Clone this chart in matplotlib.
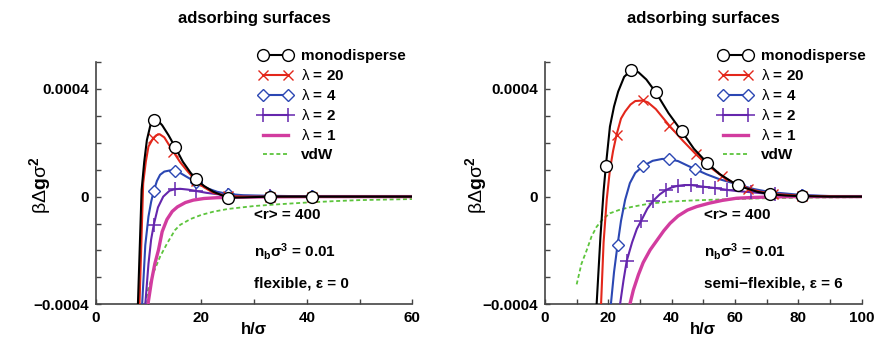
import matplotlib
matplotlib.use("Agg")
import matplotlib.pyplot as plt
import numpy as np

plt.rcParams['font.family'] = ['Liberation Sans', 'DejaVu Sans']
plt.rcParams['mathtext.fontset'] = 'custom'
plt.rcParams['mathtext.rm'] = 'Liberation Sans'
plt.rcParams['mathtext.it'] = 'Liberation Sans'
plt.rcParams['mathtext.bf'] = 'Liberation Sans:bold'

# ---------------- left panel: flexible chains, eps = 0 ----------------
mono_L_h = [8.0, 8.7, 9.2, 9.7, 10.4, 11.0, 11.8, 12.6, 13.8, 15.0, 16.5, 18.0, 19.0, 20.5, 22.3, 25.0, 28.0, 33.0, 41.0, 50.0, 60.0]
mono_L_v = [-0.0004, 0.000025, 0.00013, 0.00021, 0.000268, 0.000283, 0.000282, 0.000265, 0.000228, 0.000186, 0.000130, 0.000088, 0.000066, 0.000040, 0.000018, -0.000004, -0.000003, 0.0, 0.0, 0.0, 0.0]
mono_L_mk = [11.0, 15.0, 19.0, 25.0, 33.0, 41.0]

l20_L_h = [8.3, 9.0, 9.5, 10.0, 10.9, 11.5, 12.1, 13.0, 14.7, 16.0, 17.2, 19.0, 20.5, 22.3, 25.0, 28.0, 33.0, 41.0, 50.0, 60.0]
l20_L_v = [-0.0004, 0.00005, 0.00013, 0.000186, 0.000217, 0.000228, 0.000232, 0.000220, 0.000167, 0.000128, 0.000099, 0.000058, 0.000035, 0.000014, 0.000002, 0.0, 0.0, 0.0, 0.0, 0.0]
l20_L_mk = [10.9, 14.7, 19.0, 25.0, 33.0, 41.0]

l4_L_h = [8.8, 9.4, 10.0, 10.5, 11.0, 11.6, 12.2, 13.0, 14.0, 15.0, 16.0, 17.2, 19.0, 21.0, 23.0, 25.0, 28.0, 33.0, 41.0, 50.0, 60.0]
l4_L_v = [-0.0004, -0.00018, -0.000074, -0.00002, 0.000021, 0.000058, 0.000081, 0.000093, 0.000097, 0.000096, 0.000088, 0.000074, 0.000054, 0.000032, 0.000018, 0.00001, 0.000005, 0.000003, 0.000001, 0.0, 0.0]
l4_L_mk = [11.0, 15.0, 19.0, 25.0, 33.0, 41.0]

l2_L_h = [9.4, 10.0, 10.5, 11.0, 11.8, 12.8, 14.0, 15.0, 16.0, 17.5, 19.0, 21.0, 23.0, 25.0, 28.0, 33.0, 41.0, 50.0, 60.0]
l2_L_v = [-0.0004, -0.00025, -0.00016, -0.000105, -0.00004, 0.0, 0.000022, 0.0000275, 0.000029, 0.000026, 0.000021, 0.000014, 0.000009, 0.000005, 0.000003, 0.000001, 0.0, 0.0, 0.0]
l2_L_mk = [11.0, 15.0, 19.0, 25.0, 33.0, 41.0]

l1_L_h = [9.9, 10.6, 11.2, 11.9, 12.6, 13.5, 14.5, 15.5, 17.0, 18.5, 20.5, 23.0, 27.0, 33.0, 41.0, 50.0, 60.0]
l1_L_v = [-0.0004, -0.00031, -0.00025, -0.000198, -0.00013, -0.000085, -0.000055, -0.000038, -0.000022, -0.000013, -0.000007, -0.000004, -0.000002, -0.000001, 0.0, 0.0, 0.0]

vdw_L_h = [9.4, 10.0, 11.0, 12.2, 13.5, 15.0, 16.0, 18.0, 20.0, 22.3, 25.0, 30.0, 35.0, 40.0, 45.0, 50.0, 55.0, 60.0]
vdw_L_v = [-0.0004, -0.00034, -0.00028, -0.000223, -0.000175, -0.000125, -0.000105, -0.000083, -0.000068, -0.000056, -0.000046, -0.000035, -0.000028, -0.000022, -0.000017, -0.000013, -0.000011, -0.000009]

# ---------------- right panel: semi-flexible chains, eps = 6 ----------------
mono_R_h = [16.3, 17.5, 18.5, 19.2, 20.5, 21.8, 23.1, 25.0, 27.2, 29.5, 32.0, 35.0, 39.0, 43.2, 47.0, 51.3, 55.0, 59.0, 61.0, 63.0, 67.0, 71.0, 76.0, 81.0, 90.0, 100.0]
mono_R_v = [-0.0004, -0.00015, 0.00002, 0.000112, 0.00026, 0.000335, 0.00039, 0.000445, 0.000469, 0.000462, 0.000435, 0.000387, 0.00031, 0.000242, 0.000178, 0.000124, 0.000085, 0.000055, 0.000044, 0.000033, 0.000018, 0.000009, 0.000004, 0.000002, 0.0, 0.0]
mono_R_mk = [19.2, 27.2, 35.0, 43.2, 51.3, 61.0, 71.0, 81.0]

l20_R_h = [17.7, 18.5, 19.5, 20.5, 21.5, 22.6, 24.0, 25.3, 27.0, 28.5, 30.8, 32.5, 35.0, 39.3, 43.5, 47.6, 51.5, 56.0, 60.0, 64.0, 68.0, 72.0, 81.0, 90.0, 100.0]
l20_R_v = [-0.0004, -0.00017, -0.00001, 0.0001, 0.00017, 0.00023, 0.00029, 0.000316, 0.000342, 0.000355, 0.000357, 0.000350, 0.000325, 0.000263, 0.000208, 0.000158, 0.000115, 0.000075, 0.000048, 0.00003, 0.000018, 0.00001, 0.000003, 0.000001, 0.0]
l20_R_mk = [22.6, 30.8, 39.3, 47.6, 56.0, 64.0, 72.0, 81.0]

l4_R_h = [20.8, 21.8, 22.9, 24.0, 25.3, 26.8, 28.5, 31.0, 34.0, 37.0, 39.3, 42.0, 44.5, 47.4, 51.0, 55.0, 61.3, 66.0, 71.0, 81.0, 90.0, 100.0]
l4_R_v = [-0.0004, -0.00028, -0.00018, -0.00009, -0.000012, 0.00005, 0.000088, 0.000114, 0.000133, 0.00014, 0.000139, 0.000132, 0.000118, 0.000102, 0.000083, 0.000065, 0.0000435, 0.000028, 0.000017, 0.000006, 0.000002, 0.0]
l4_R_mk = [22.9, 31.0, 39.3, 47.4, 61.3, 81.0]

l2_R_h = [23.7, 24.8, 25.8, 27.5, 29.0, 30.4, 32.3, 34.2, 36.2, 38.1, 40.0, 41.9, 44.0, 46.1, 49.8, 53.7, 57.4, 61.0, 65.0, 72.6, 81.0, 90.0, 100.0]
l2_R_v = [-0.0004, -0.00031, -0.000239, -0.00017, -0.00012, -0.000089, -0.000045, -0.000015, 0.000008, 0.000024, 0.000034, 0.00004, 0.000043, 0.000043, 0.000037, 0.000032, 0.000025, 0.00002, 0.0000164, 0.000008, 0.000004, 0.000001, 0.0]
l2_R_mk = [25.8, 30.4, 34.2, 38.1, 41.9, 46.1, 49.8, 53.7, 57.4, 65.0, 72.6, 81.0]

l1_R_h = [26.8, 27.9, 29.5, 31.0, 33.2, 35.5, 37.5, 39.5, 42.0, 45.0, 47.9, 52.0, 56.0, 60.5, 66.0, 72.0, 80.0, 90.0, 100.0]
l1_R_v = [-0.0004, -0.000347, -0.00029, -0.000245, -0.000198, -0.00016, -0.000127, -0.000099, -0.000072, -0.00005, -0.000037, -0.000024, -0.000014, -0.000006, -0.000003, -0.000001, 0.0, 0.0, 0.0]

vdw_R_h = [10.0, 11.5, 13.2, 14.7, 16.3, 18.3, 20.5, 24.0, 27.9, 33.0, 39.5, 45.0, 52.0, 60.0, 70.0, 80.0, 90.0, 100.0]
vdw_R_v = [-0.000326, -0.00025, -0.000198, -0.000148, -0.000112, -0.000083, -0.000062, -0.000047, -0.000037, -0.000026, -0.0000186, -0.000015, -0.000012, -0.000009, -0.000006, -0.000004, -0.000003, -0.000002]

labels = ['monodisperse', r'$\mathrm{\lambda}$ = 20', r'$\mathrm{\lambda}$ = 4',
          r'$\mathrm{\lambda}$ = 2', r'$\mathrm{\lambda}$ = 1', 'vdW']
y_ticks = [-0.0004, 0.0, 0.0004]
y_tick_labels = ['\u22120.0004', '0', '0.0004']
x_ticks_L = [0, 20, 40, 60]
x_ticks_R = [0, 20, 40, 60, 80, 100]

BLACK = '#000000'
RED = '#e3271b'
BLUE = '#2b47b3'
PURPLE = '#6526ad'
MAGENTA = '#d23c9f'
GREEN = '#5cc43c'

W, H = 879, 351
fig = plt.figure(figsize=(W / 100, H / 100), dpi=100)


def mk_index(h, marks):
    return [int(np.argmin(np.abs(np.asarray(h) - m))) for m in marks]


def panel(rect, data, xmax, xticks, title, note, ylabel_x, leg_x):
    ax = fig.add_axes(rect)
    (mh, mv, mm), (rh, rv, rm), (bh, bv, bm), (ph, pv, pm), (gh, gv), (vh, vv) = data
    ax.plot(vh, vv, color=GREEN, lw=1.3, ls=(0, (2.2, 1.5)), label=labels[5], zorder=2)
    ax.plot(gh, gv, color=MAGENTA, lw=2.4, label=labels[4], zorder=3)
    ax.plot(ph, pv, color=PURPLE, lw=1.5, marker='+', ms=9.5, mew=1.1,
            markevery=mk_index(ph, pm), label=labels[3], zorder=4)
    ax.plot(bh, bv, color=BLUE, lw=1.5, marker='D', ms=6.5, mew=1.0, mfc='white',
            markevery=mk_index(bh, bm), label=labels[2], zorder=5)
    ax.plot(rh, rv, color=RED, lw=1.5, marker='x', ms=7.5, mew=1.0,
            markevery=mk_index(rh, rm), label=labels[1], zorder=6)
    ax.plot(mh, mv, color=BLACK, lw=1.5, marker='o', ms=8.5, mew=1.0, mfc='white',
            markevery=mk_index(mh, mm), label=labels[0], zorder=7)

    ax.set_xlim(0, xmax)
    ax.set_ylim(-0.0004, 0.0005)
    ax.set_xticks(xticks)
    ax.set_xticks(np.arange(10, xmax, 20), minor=True)
    ax.set_yticks(y_ticks)
    ax.set_yticklabels(y_tick_labels)
    ax.set_yticks([-0.0003, -0.0002, -0.0001, 0.0001, 0.0002, 0.0003, 0.0005], minor=True)
    for s in ('top', 'right'):
        ax.spines[s].set_visible(False)
    for s in ('left', 'bottom'):
        ax.spines[s].set_color('#444444')
        ax.spines[s].set_linewidth(1.2)
    ax.tick_params(which='both', direction='in', length=3.5, width=1.0, color='#444444',
                   labelsize=11, pad=5)
    for t in ax.get_xticklabels() + ax.get_yticklabels():
        t.set_fontweight('bold')

    # legend entries listed top to bottom
    handles, labs = ax.get_legend_handles_labels()
    order = [labs.index(l) for l in labels]
    ax.legend([handles[i] for i in order], [labs[i] for i in order],
              loc='upper left', bbox_to_anchor=(leg_x / W, 1 - 49 / H),
              bbox_transform=fig.transFigure, frameon=False, numpoints=2,
              handlelength=2.25, handletextpad=0.55, borderpad=0, borderaxespad=0,
              labelspacing=0.33, prop={'weight': 'bold', 'size': 11})

    x0 = rect[0] + rect[2] / 2
    fig.text(x0, 1 - 18 / H, title, ha='center', va='center', fontsize=12, fontweight='bold')
    fig.text(x0, 1 - 330 / H, 'h/σ', ha='center', va='center', fontsize=12, fontweight='bold')
    fig.text(ylabel_x / W, 1 - 185 / H, r'$\mathrm{\beta\Delta}\mathbf{g}\mathrm{\sigma}^{\mathbf{2}}$',
             ha='center', va='center', rotation=90, fontsize=14)

    nx = note[0]
    fig.text(nx / W, 1 - 215 / H, '<r> = 400', ha='left', va='center', fontsize=11, fontweight='bold')
    fig.text(nx / W, 1 - 251 / H, r'n$_{\mathbf{b}}$σ$^{\mathbf{3}}$ = 0.01', ha='left', va='center',
             fontsize=11, fontweight='bold')
    fig.text(nx / W, 1 - 283 / H, note[1], ha='left', va='center', fontsize=11, fontweight='bold')
    return ax


ax_top = 1 - 62 / H
ax_bot = 1 - 304.3 / H
left_rect = [95.7 / W, ax_bot, (412.3 - 95.7) / W, ax_top - ax_bot]
right_rect = [545 / W, ax_bot, (861.7 - 545) / W, ax_top - ax_bot]

panel(left_rect,
      [(mono_L_h, mono_L_v, mono_L_mk), (l20_L_h, l20_L_v, l20_L_mk), (l4_L_h, l4_L_v, l4_L_mk),
       (l2_L_h, l2_L_v, l2_L_mk), (l1_L_h, l1_L_v), (vdw_L_h, vdw_L_v)],
      60, x_ticks_L, 'adsorbing surfaces', (254, 'flexible, ε = 0'), 40, 258)

panel(right_rect,
      [(mono_R_h, mono_R_v, mono_R_mk), (l20_R_h, l20_R_v, l20_R_mk), (l4_R_h, l4_R_v, l4_R_mk),
       (l2_R_h, l2_R_v, l2_R_mk), (l1_R_h, l1_R_v), (vdw_R_h, vdw_R_v)],
      100, x_ticks_R, 'adsorbing surfaces', (704, 'semi\u2212flexible, ε = 6'), 476, 718)

fig.savefig('out.png', dpi=100)
